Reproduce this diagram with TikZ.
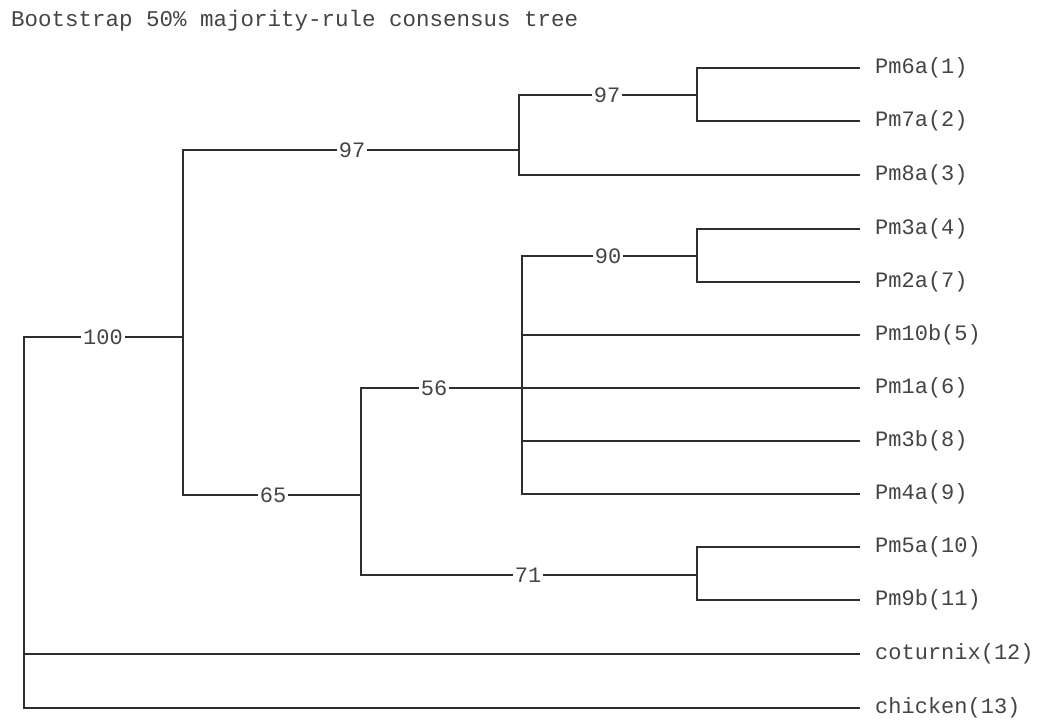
\documentclass[tikz,border=0pt]{standalone}
\usepackage{fontspec}
\setmonofont{Liberation Mono}
\definecolor{ink}{HTML}{2E2E2E}
\definecolor{txt}{HTML}{444444}
\begin{document}
\begin{tikzpicture}[x=1pt,y=-1pt,
  br/.style={draw=ink, line width=2.7pt, line join=miter},
  leaf/.style={anchor=west, inner sep=0pt, text=txt, font=\ttfamily\fontsize{22}{24}\selectfont},
  bslab/.style={inner xsep=2pt, inner ysep=0pt, text=txt, font=\ttfamily\fontsize{22}{24}\selectfont},
  titlestyle/.style={anchor=west, inner sep=0pt, text=txt, font=\ttfamily\fontsize{22.5}{24}\selectfont}]
\useasboundingbox (0,0) rectangle (1042,728);
\node[titlestyle] (title) at (11,21) {Bootstrap 50\% majority-rule consensus tree};
% leaf tips and labels
\foreach \i/\y/\t in {1/68/Pm6a(1),2/121/Pm7a(2),3/175/Pm8a(3),4/229/Pm3a(4),5/282/Pm2a(7),6/335/Pm10b(5),7/388/Pm1a(6),8/441/Pm3b(8),9/494/Pm4a(9),10/547/Pm5a(10),11/600/Pm9b(11),12/654/coturnix(12),13/708/chicken(13)}{
  \coordinate (t\i) at (860,\y);
  \node[leaf] (L\i) at (875,\y) {\t};
}
% internal junctions
\coordinate (nA) at (697,95);
\coordinate (nB) at (519,150);
\coordinate (nC) at (697,256);
\coordinate (nD) at (522,388);
\coordinate (nF) at (697,575);
\coordinate (nE) at (361,495);
\coordinate (nG) at (183,337);
\coordinate (nR) at (24,337);
% support labels
\node[bslab] (s97a) at (607,95) {97};
\node[bslab] (s97b) at (352,150) {97};
\node[bslab] (s90) at (608,256) {90};
\node[bslab] (s56) at (434,388) {56};
\node[bslab] (s71) at (528,575) {71};
\node[bslab] (s65) at (273,495) {65};
\node[bslab] (s100) at (103,337) {100};
% clade A
\draw[br] (t1) -| (nA) |- (t2);
% clade B
\draw[br] (s97a.west) -| (nB) |- (t3);
\draw[br] (s97a.east) -- (nA);
% clade C
\draw[br] (t4) -| (nC) |- (t5);
% clade D
\draw[br] (s90.west) -| (nD) |- (t9);
\draw[br] (s90.east) -- (nC);
\draw[br] (nD |- t6) -- (t6);
\draw[br] (nD) -- (t7);
\draw[br] (nD |- t8) -- (t8);
% clade F
\draw[br] (t10) -| (nF) |- (t11);
% clade E
\draw[br] (s56.west) -| (nE) |- (s71.west);
\draw[br] (s56.east) -- (nD);
\draw[br] (s71.east) -- (nF);
% clade G
\draw[br] (s97b.west) -| (nG) |- (s65.west);
\draw[br] (s97b.east) -- (nB);
\draw[br] (s65.east) -- (nE);
% root
\draw[br] (s100.west) -- (nR) |- (t13);
\draw[br] (nR |- t12) -- (t12);
\draw[br] (s100.east) -- (nG);
\end{tikzpicture}
\end{document}
